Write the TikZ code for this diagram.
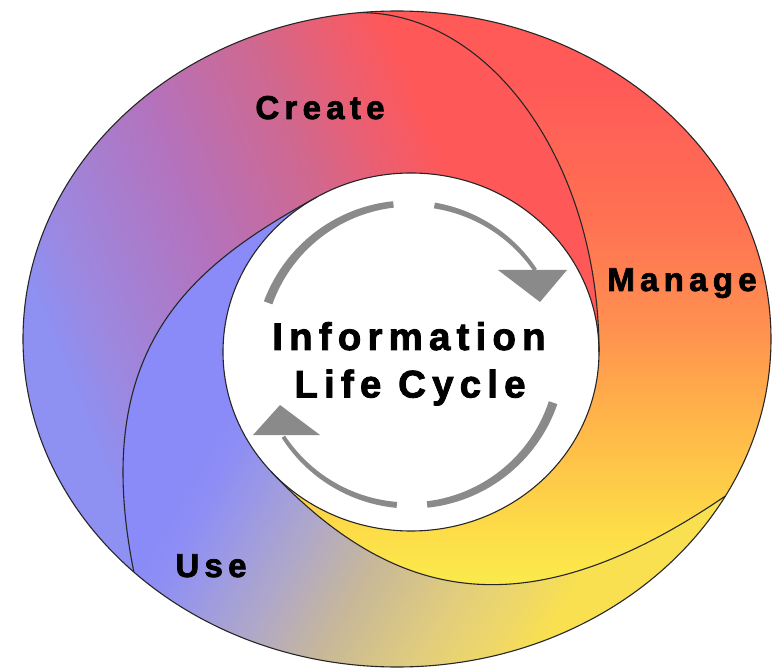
\documentclass[tikz,border=0pt]{standalone}
\usepackage{fontspec}
\newfontfamily\lblfont{Liberation Sans}[UprightFont={* Bold},BoldFont={* Bold},LetterSpace=16,FakeBold=2.2]
\definecolor{cA}{HTML}{8E90F2}
\definecolor{cB}{HTML}{9C88E0}
\definecolor{cC}{HTML}{B472BC}
\definecolor{cD}{HTML}{D0688F}
\definecolor{cE}{HTML}{EC5E70}
\definecolor{cF}{HTML}{FF5858}
\definecolor{mA}{HTML}{FBEA4C}
\definecolor{mB}{HTML}{FDDC48}
\definecolor{mC}{HTML}{FFB848}
\definecolor{mD}{HTML}{FF9050}
\definecolor{mE}{HTML}{FF7252}
\definecolor{mF}{HTML}{FF5A58}
\definecolor{uA}{HTML}{8A8AF8}
\definecolor{uB}{HTML}{8E8EF4}
\definecolor{uC}{HTML}{9A98E6}
\definecolor{uD}{HTML}{B0A8C8}
\definecolor{uE}{HTML}{C8B898}
\definecolor{uF}{HTML}{E2CE7C}
\definecolor{uG}{HTML}{F0D866}
\definecolor{uH}{HTML}{F8E050}
\definecolor{arrowgray}{HTML}{8A8A8A}
\pgfdeclarehorizontalshading{createshade}{100bp}{color(0bp)=(cA); color(30bp)=(cA); color(34bp)=(cB); color(45bp)=(cC); color(55bp)=(cD); color(61bp)=(cE); color(66bp)=(cF); color(100bp)=(cF)}
\pgfdeclareverticalshading{manageshade}{100bp}{color(0bp)=(mA); color(28.7bp)=(mA); color(33bp)=(mB); color(41bp)=(mC); color(49bp)=(mD); color(57bp)=(mE); color(68bp)=(mF); color(100bp)=(cF)}
\pgfdeclarehorizontalshading{useshade}{100bp}{color(0bp)=(uA); color(35bp)=(uA); color(38bp)=(uB); color(41.3bp)=(uC); color(47bp)=(uD); color(53.3bp)=(uE); color(61bp)=(uF); color(66.3bp)=(uG); color(69.3bp)=(uH); color(100bp)=(uH)}
\tikzset{
  outline/.style={draw=black!85, line width=1.1pt},
  lbl/.style={font=\lblfont\fontsize{33}{38}\selectfont, inner sep=0pt, anchor=base, text=black},
  title/.style={font=\lblfont\fontsize{38.5}{44}\selectfont, inner sep=0pt, anchor=base, text=black},
  arrowpart/.style={fill=arrowgray}
}
\begin{document}
\begin{tikzpicture}[x=1pt,y=-1pt]
\useasboundingbox (0,0) rectangle (772,671);
\coordinate (P1) at (359.85,12.6);
\coordinate (P2) at (725.4,496.0);
\coordinate (P3) at (133.9,572.1);
\coordinate (Q1) at (599,352);
\coordinate (Q2) at (317,197.0);
\coordinate (Q3) at (271.3,471.8);
% Create band
\shade[shading=createshade, shading angle=22] (P3)
  arc[start angle=134.7,end angle=264.3,x radius=374,y radius=328]
  arc[start angle=-90,end angle=0,x radius=239.15,y radius=339.4]
  arc[start angle=360,end angle=240,x radius=188,y radius=179]
  .. controls (194.4,264.5) and (88,345) .. (P3) -- cycle;
% Manage band
\shade[shading=manageshade] (P1)
  arc[start angle=-95.7,end angle=28.6,x radius=374,y radius=328]
  .. controls (527.2,631.2) and (395,602.7) .. (Q3)
  arc[start angle=138,end angle=0,x radius=188,y radius=179]
  arc[start angle=0,end angle=-90,x radius=239.15,y radius=339.4] -- cycle;
% Use band
\shade[shading=useshade, shading angle=-30] (P2)
  arc[start angle=28.6,end angle=134.7,x radius=374,y radius=328]
  .. controls (88,345) and (194.4,264.5) .. (Q2)
  arc[start angle=240,end angle=138,x radius=188,y radius=179]
  .. controls (395,602.7) and (527.2,631.2) .. (P2) -- cycle;
% outlines
\draw[outline] (397,339) ellipse[x radius=374,y radius=328];
\draw[outline] (411,352) ellipse[x radius=188,y radius=179];
\draw[outline] (P1) arc[start angle=-90,end angle=0,x radius=239.15,y radius=339.4];
\draw[outline] (P3) .. controls (88,345) and (194.4,264.5) .. (Q2);
\draw[outline] (P2) .. controls (527.2,631.2) and (395,602.7) .. (Q3);
% upper cycle arrow
\fill[arrowpart] plot[variable=\t,domain=200:263.7,samples=30] ({410+(151+(9-5*(\t-200)/125)/2)*cos(\t)},{354.5+(151+(9-5*(\t-200)/125)/2)*sin(\t)})
  -- plot[variable=\t,domain=263.7:200,samples=30] ({410+(151-(9-5*(\t-200)/125)/2)*cos(\t)},{354.5+(151-(9-5*(\t-200)/125)/2)*sin(\t)}) -- cycle;
\fill[arrowpart] plot[variable=\t,domain=279.3:326,samples=30] ({410+(151+(9-5*(\t-200)/125)/2)*cos(\t)},{354.5+(151+(9-5*(\t-200)/125)/2)*sin(\t)})
  -- plot[variable=\t,domain=326:279.3,samples=30] ({410+(151-(9-5*(\t-200)/125)/2)*cos(\t)},{354.5+(151-(9-5*(\t-200)/125)/2)*sin(\t)}) -- cycle;
\fill[arrowpart] (498,270) -- (567,270) -- (540,302) -- cycle;
% lower cycle arrow
\fill[arrowpart] plot[variable=\t,domain=18.6:83.5,samples=30] ({410+(151+(9-5*(\t-18.6)/127.7)/2)*cos(\t)},{354.5+(151+(9-5*(\t-18.6)/127.7)/2)*sin(\t)})
  -- plot[variable=\t,domain=83.5:18.6,samples=30] ({410+(151-(9-5*(\t-18.6)/127.7)/2)*cos(\t)},{354.5+(151-(9-5*(\t-18.6)/127.7)/2)*sin(\t)}) -- cycle;
\fill[arrowpart] plot[variable=\t,domain=95:147,samples=30] ({410+(151+(9-5*(\t-18.6)/127.7)/2)*cos(\t)},{354.5+(151+(9-5*(\t-18.6)/127.7)/2)*sin(\t)})
  -- plot[variable=\t,domain=147:95,samples=30] ({410+(151-(9-5*(\t-18.6)/127.7)/2)*cos(\t)},{354.5+(151-(9-5*(\t-18.6)/127.7)/2)*sin(\t)}) -- cycle;
\fill[arrowpart] (253,435) -- (320,435) -- (280,405) -- cycle;
% labels
\node[lbl] (create) at (320,119) {Create};
\node[lbl] (manage) at (682,291) {Manage};
\node[lbl] (use) at (211,577) {Use};
\node[title] (info) at (409,350) {Information};
\node[title] (life) at (410,397.5) {Life Cycle};
\end{tikzpicture}
\end{document}
